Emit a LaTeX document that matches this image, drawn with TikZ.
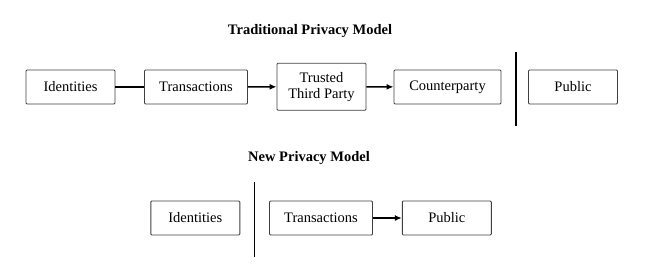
\documentclass[tikz,border=0pt]{standalone}
\usepackage{fontspec}
\setmainfont{Liberation Serif}
\usetikzlibrary{arrows.meta}
\begin{document}
\begin{tikzpicture}[x=1pt,y=-1pt,
  box/.style={draw=black!75,line width=0.9pt,rounded corners=1pt,font=\fontsize{14.5}{16}\selectfont,inner sep=0pt,align=center},
  ttl/.style={font=\fontsize{14.5}{16}\selectfont\bfseries},
  conn/.style={line width=1.4pt},
  arr/.style={conn,-{Latex[length=7pt,width=6pt]}},
  divider/.style={line width=1.6pt}]
\useasboundingbox (0,0) rectangle (650,268);
\node[ttl] (t1) at (310,31) {Traditional Privacy Model};
\node[box,minimum width=89pt,minimum height=34pt] (id1) at (70.5,87) {Identities};
\node[box,minimum width=103pt,minimum height=34pt] (tr1) at (196,87) {Transactions};
\node[box,minimum width=89pt,minimum height=47pt] (ttp) at (321.5,86.7) {Trusted\\Third Party};
\node[box,minimum width=107pt,minimum height=34pt] (cp) at (447.5,87) {Counterparty};
\node[box,minimum width=89pt,minimum height=34pt] (pub1) at (573,87) {Public};
\coordinate (d1a) at (515.7,51.7);
\coordinate (d1b) at (515.7,126);
\draw[divider] (d1a) -- (d1b);
\draw[conn] (id1) -- (tr1);
\draw[arr] (tr1) -- (ttp);
\draw[arr] (ttp) -- (cp);

\node[ttl] (t2) at (309,158) {New Privacy Model};
\node[box,minimum width=89pt,minimum height=34pt] (id2) at (195.3,218) {Identities};
\node[box,minimum width=103pt,minimum height=34pt] (tr2) at (321,218) {Transactions};
\node[box,minimum width=89pt,minimum height=34pt] (pub2) at (446.8,218) {Public};
\coordinate (d2a) at (254.3,182.3);
\coordinate (d2b) at (254.3,257.3);
\draw[divider] (d2a) -- (d2b);
\draw[arr] (tr2) -- (pub2);
\end{tikzpicture}
\end{document}
